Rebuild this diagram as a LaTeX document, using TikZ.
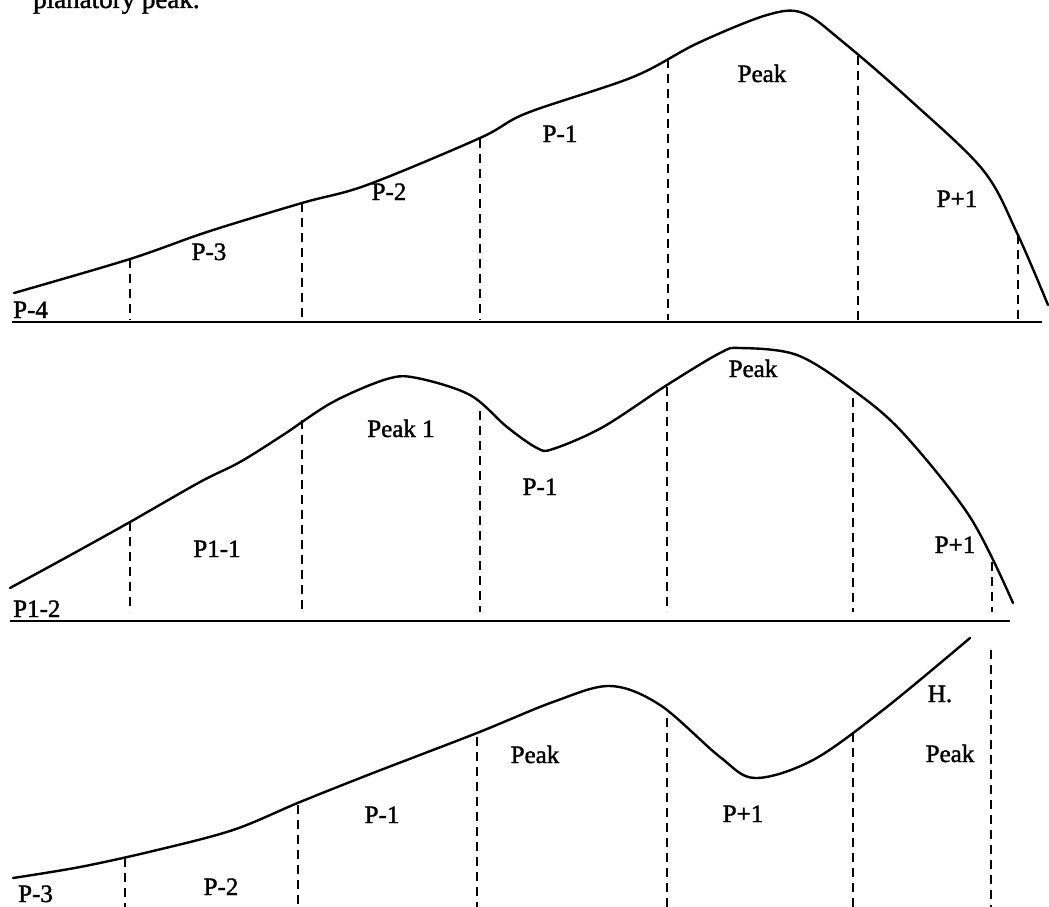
\documentclass[tikz,border=0pt]{standalone}
\usepackage{fontspec}
\setmainfont{Liberation Serif}
\newfontfamily\lblfont[FakeBold=1.5]{Liberation Serif}
\begin{document}
\begin{tikzpicture}[x=1pt,y=-1pt,
  curve/.style={line width=2.4pt,line join=round,line cap=round,smooth,tension=0.55},
  divider/.style={line width=1.9pt,dash pattern=on 9pt off 6pt},
  base/.style={line width=2.4pt},
  lbl/.style={inner sep=0pt,anchor=base,font=\lblfont\fontsize{25}{30}\selectfont}]
\useasboundingbox (0,0) rectangle (1049,907);
\clip (0,0) rectangle (1049,907);
\node[inner sep=0pt,anchor=base west,font=\lblfont\fontsize{27}{32}\selectfont] (cap) at (33,8) {planatory peak.};

% ---------- top panel ----------
\draw[base] (12,322) -- (1042,322);
\draw[curve] plot coordinates {(14,293) (130,259) (207,232) (302,203) (367,185) (480,138) (527,113) (633,77) (698,43) (767,15) (803,13) (843,42) (910,100) (983,170) (1017,233) (1048,305)};
\foreach \x/\t in {130/259,302/203,480/139,668/59,858/56,1018/235}
  \draw[divider] (\x,\t) -- (\x,320);
\node[lbl,anchor=base west] (a4) at (13,318) {P-4};
\node[lbl] (a3) at (209,260) {P-3};
\node[lbl] (a2) at (389,200) {P-2};
\node[lbl] (a1) at (560,142) {P-1};
\node[lbl] (ap) at (762,82) {Peak};
\node[lbl] (ap1) at (957,207) {P+1};

% ---------- middle panel ----------
\draw[base] (10,621) -- (1010,621);
\draw[curve] plot coordinates {(10,588) (67,557) (130,522) (200,482) (240,462) (283,435) (333,402) (387,379) (417,378) (470,395) (507,427) (537,448) (553,449) (603,427) (667,385) (720,353) (740,348) (797,355) (853,390) (903,433) (970,517) (1013,603)};
\foreach \x/\t in {130/522,302/420,480/411,667/387,853/398,992/562}
  \draw[divider] (\x,\t) -- (\x,612);
\node[lbl,anchor=base west] (b12) at (13,617) {P1-2};
\node[lbl] (b11) at (217,557) {P1-1};
\node[lbl] (bpk1) at (401,437) {Peak 1};
\node[lbl] (b1) at (540,495) {P-1};
\node[lbl] (bp) at (753,377) {Peak};
\node[lbl] (bp1) at (955,553) {P+1};

% ---------- bottom panel ----------
\draw[curve] plot coordinates {(13,878) (80,867) (153,851) (233,830) (300,802) (373,773) (477,733) (553,702) (610,686) (660,705) (720,757) (755,778) (813,760) (883,710) (970,638)};
\foreach \x/\t in {125/858,298/805,477/737,667/718,853/733,991/650}
  \draw[divider] (\x,\t) -- (\x,907);
\node[lbl,anchor=base west] (c3) at (18,902) {P-3};
\node[lbl] (c2) at (221,895) {P-2};
\node[lbl] (c1) at (382,823) {P-1};
\node[lbl] (cp) at (535,763) {Peak};
\node[lbl] (cp1) at (743,822) {P+1};
\node[lbl] (ch) at (940,702) {H.};
\node[lbl] (chp) at (950,762) {Peak};
\end{tikzpicture}
\end{document}
